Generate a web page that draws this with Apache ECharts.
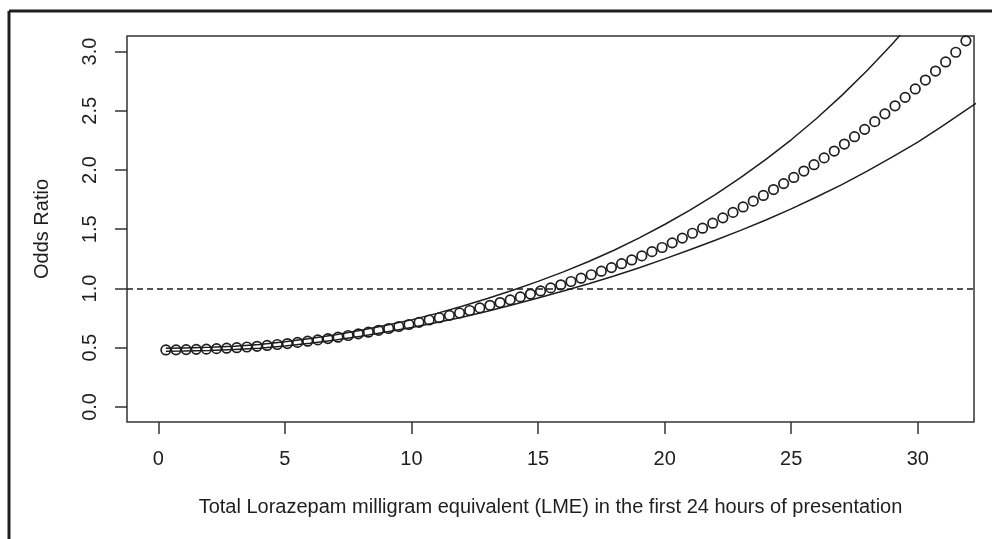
<!DOCTYPE html>
<html>
<head>
<meta charset="utf-8">
<script src="https://cdn.jsdelivr.net/npm/echarts@6/dist/echarts.min.js"></script>
<style>
html,body{margin:0;padding:0;background:#fff;}
#chart{width:992px;height:539px;}
</style>
</head>
<body>
<div id="chart"></div>
<script>
// Point estimates (open circles)
const pointX = [0.3,0.7,1.1,1.5,1.9,2.3,2.7,3.1,3.5,3.9,4.3,4.7,5.1,5.5,5.9,6.3,6.7,7.1,7.5,7.9,
  8.3,8.7,9.1,9.5,9.9,10.3,10.7,11.1,11.5,11.9,12.3,12.7,13.1,13.5,13.9,14.3,14.7,15.1,15.5,15.9,
  16.3,16.7,17.1,17.5,17.9,18.3,18.7,19.1,19.5,19.9,20.3,20.7,21.1,21.5,21.9,22.3,22.7,23.1,23.5,23.9,
  24.3,24.7,25.1,25.5,25.9,26.3,26.7,27.1,27.5,27.9,28.3,28.7,29.1,29.5,29.9,30.3,30.7,31.1,31.5,31.9];
const pointOR = [0.481,0.482,0.484,0.486,0.488,0.492,0.496,0.500,0.506,0.512,0.519,0.527,0.535,0.545,0.555,0.566,0.577,0.589,0.603,0.617,
  0.631,0.647,0.662,0.679,0.696,0.714,0.734,0.753,0.773,0.793,0.814,0.836,0.858,0.881,0.904,0.929,0.953,0.979,1.005,1.031,
  1.059,1.087,1.116,1.146,1.176,1.209,1.241,1.275,1.311,1.346,1.385,1.425,1.466,1.509,1.551,1.596,1.642,1.688,1.737,1.785,
  1.835,1.885,1.937,1.991,2.045,2.102,2.160,2.219,2.281,2.343,2.408,2.474,2.542,2.613,2.684,2.759,2.835,2.912,2.994,3.09];
// Confidence band lines
const ciX = [0.3,1,2,3,4,5,6,7,8,9,10,11,12,13,14,15,16,17,18,19,20,21,22,23,24,25,26,27,28,29,30,31,32,33];
const ciUpper = [0.495,0.498,0.503,0.512,0.527,0.55,0.577,0.61,0.647,0.69,0.735,0.79,0.85,0.915,0.985,1.06,1.14,1.228,1.323,1.427,
  1.54,1.662,1.793,1.935,2.09,2.255,2.435,2.63,2.84,3.065,3.31,3.575,3.86,4.17];
const ciLower = [0.47,0.472,0.477,0.484,0.495,0.515,0.538,0.565,0.597,0.632,0.67,0.712,0.758,0.808,0.862,0.92,0.978,1.04,1.105,1.175,
  1.25,1.327,1.407,1.49,1.578,1.672,1.772,1.877,1.99,2.11,2.235,2.375,2.52,2.66];
const xTicks = [0,5,10,15,20,25,30];
const yTicks = [0,0.5,1,1.5,2,2.5,3];
const refLine = 1;
const xTitle = 'Total Lorazepam milligram equivalent (LME) in the first 24 hours of presentation';
const yTitle = 'Odds Ratio';

const ink = '#1e1e1e';
const font = '"Liberation Sans", Arial, Helvetica, sans-serif';

const chart = echarts.init(document.getElementById('chart'), null, {renderer:'canvas'});
chart.setOption({
  animation: false,
  backgroundColor: '#fff',
  grid: {left:127, right:18, top:36, bottom:117, show:true, borderColor:'#333', borderWidth:1.5, backgroundColor:'transparent'},
  xAxis: {
    type:'value', min:-1.236, max:32.22,
    axisLine:{show:false, onZero:false},
    splitLine:{show:false},
    axisTick:{show:true, customValues:xTicks, length:12, lineStyle:{color:'#333', width:1.5}},
    axisLabel:{show:true, customValues:xTicks, margin:27, fontSize:20, color:ink, fontFamily:font}
  },
  yAxis: {
    type:'value', min:-0.127, max:3.131,
    axisLine:{show:false, onZero:false},
    splitLine:{show:false},
    axisTick:{show:true, customValues:yTicks, length:12, lineStyle:{color:'#333', width:1.5}},
    axisLabel:{show:true, customValues:yTicks, rotate:90, margin:27, fontSize:20, color:ink, fontFamily:font,
      formatter: v => Number(v).toFixed(1)}
  },
  graphic: [
    {type:'line', shape:{x1:9, y1:11, x2:9, y2:539}, style:{stroke:ink, lineWidth:3}},
    {type:'line', shape:{x1:9, y1:11, x2:992, y2:11}, style:{stroke:ink, lineWidth:3}},
    {type:'text', x:550.5, y:507, style:{text:xTitle, align:'center', verticalAlign:'middle', fontSize:20, fill:ink, fontFamily:font}},
    {type:'text', x:42, y:229, rotation:Math.PI/2, style:{text:yTitle, align:'center', verticalAlign:'middle', fontSize:20, fill:ink, fontFamily:font}}
  ],
  series: [
    {type:'line', data: ciX.map((x,i)=>[x, ciUpper[i]]), showSymbol:false, symbol:'none', clip:true,
     lineStyle:{color:ink, width:1.5}, z:2},
    {type:'line', data: ciX.map((x,i)=>[x, ciLower[i]]), showSymbol:false, symbol:'none', clip:true,
     lineStyle:{color:ink, width:1.5}, z:2,
     markLine:{silent:true, symbol:'none', label:{show:false},
       lineStyle:{color:ink, width:1.5, type:[6,4]},
       data:[{yAxis:refLine}]}},
    {type:'scatter', data: pointX.map((x,i)=>[x, pointOR[i]]), symbol:'circle', symbolSize:9.5, clip:true,
     itemStyle:{color:'rgba(0,0,0,0)', borderColor:ink, borderWidth:1.7, opacity:1}, z:3}
  ]
});
</script>
</body>
</html>
